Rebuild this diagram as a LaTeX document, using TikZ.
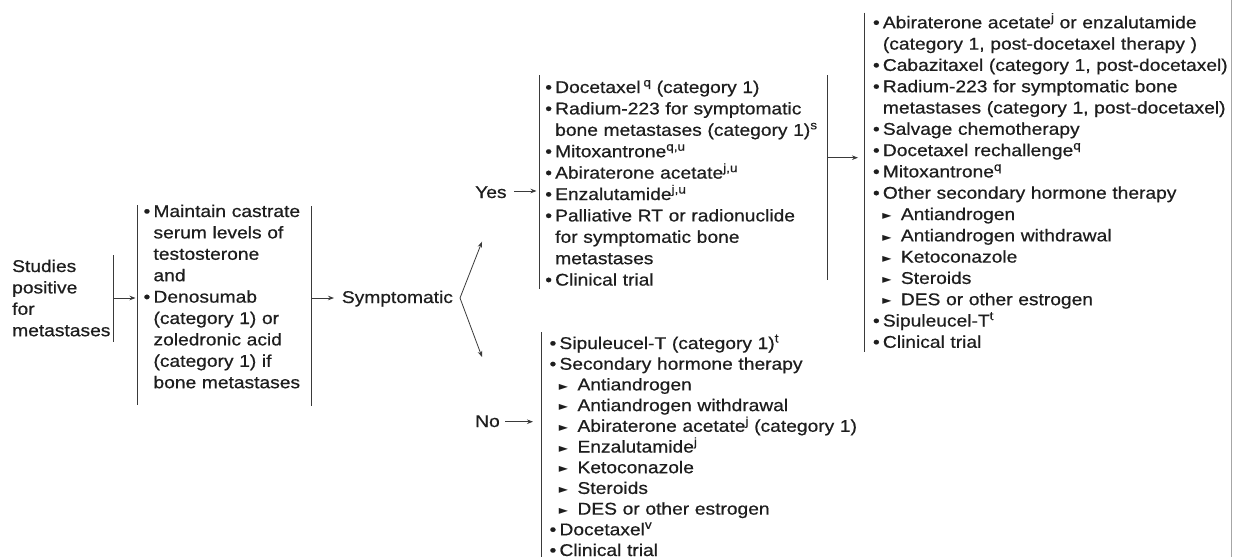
\documentclass[tikz,border=0pt]{standalone}
\usepackage{fontspec}
\setmainfont[FakeStretch=1.13,FakeBold=0.6]{Liberation Sans}
\newfontfamily\symfont{DejaVu Sans}
\usetikzlibrary{arrows.meta}
\definecolor{ink}{HTML}{1E1E1E}
\definecolor{rule}{HTML}{3A3A3A}
\newcommand\bul{\leavevmode\llap{\textbullet\hspace{3.2pt}}}
\newcommand\sub{\leavevmode\makebox[18pt][l]{\makebox[8pt][c]{\raisebox{0.3pt}{\symfont\fontsize{12}{12}\selectfont ►}}}}
\newcommand\sps[1]{\raisebox{6.5pt}{\fontsize{12}{12}\selectfont #1}}
\begin{document}
\begin{tikzpicture}[x=1pt,y=-1pt,
  txt/.style={inner sep=0pt, text width=400pt, align=left, text=ink, anchor=base west,
    font=\fontsize{17}{21.4}\selectfont},
  lbl/.style={inner sep=0pt, text=ink, anchor=base west, font=\fontsize{17}{21.4}\selectfont},
  bar/.style={draw=rule, line width=0.8pt},
  arr/.style={draw=rule, line width=0.8pt, -{Stealth[length=6pt,width=4.5pt]}}]
\useasboundingbox[fill=white] (0,0) rectangle (1233,557);

% texts
\node[txt] (studies) at (12,272) {Studies\\positive\\for\\metastases};
\node[txt] (maintain) at (153.3,217) {\bul Maintain castrate\\serum levels of\\testosterone\\and\\\bul Denosumab\\(category 1) or\\zoledronic acid\\(category 1) if\\bone metastases};
\node[lbl] (sympt) at (341.7,303) {Symptomatic};
\node[lbl] (yes) at (475,198) {Yes};
\node[lbl] (no) at (475,427) {No};
\node[txt] (yesbox) at (555,93) {\bul Docetaxel\,\sps{q} (category 1)\\
\bul Radium-223 for symptomatic\\
bone metastases (category 1)\sps{s}\\
\bul Mitoxantrone\sps{q,u}\\
\bul Abiraterone acetate\sps{j,u}\\
\bul Enzalutamide\sps{j,u}\\
\bul Palliative RT or radionuclide\\
for symptomatic bone\\
metastases\\
\bul Clinical trial};
\node[txt, font=\fontsize{17}{21.3}\selectfont] (postbox) at (882.7,28.3) {\bul Abiraterone acetate\sps{j} or enzalutamide\\
(category 1, post-docetaxel therapy )\\
\bul Cabazitaxel (category 1, post-docetaxel)\\
\bul Radium-223 for symptomatic bone\\
metastases (category 1, post-docetaxel)\\
\bul Salvage chemotherapy\\
\bul Docetaxel rechallenge\sps{q}\\
\bul Mitoxantrone\sps{q}\\
\bul Other secondary hormone therapy\\
\sub Antiandrogen\\
\sub Antiandrogen withdrawal\\
\sub Ketoconazole\\
\sub Steroids\\
\sub DES or other estrogen\\
\bul Sipuleucel-T\sps{t}\\
\bul Clinical trial};
\node[txt, font=\fontsize{17}{20.7}\selectfont] (nobox) at (559.3,349) {\bul Sipuleucel-T (category 1)\sps{t}\\
\bul Secondary hormone therapy\\
\sub Antiandrogen\\
\sub Antiandrogen withdrawal\\
\sub Abiraterone acetate\sps{j} (category 1)\\
\sub Enzalutamide\sps{j}\\
\sub Ketoconazole\\
\sub Steroids\\
\sub DES or other estrogen\\
\bul Docetaxel\sps{v}\\
\bul Clinical trial};

% bars
\coordinate (sbT) at (113.3,255); \coordinate (sbB) at (113.3,342);
\coordinate (mlT) at (137.7,205); \coordinate (mlB) at (137.7,405);
\coordinate (mrT) at (311,206); \coordinate (mrB) at (311,406);
\coordinate (ylT) at (539,75); \coordinate (ylB) at (539,289);
\coordinate (yrT) at (827.7,75); \coordinate (yrB) at (827.7,280);
\coordinate (plT) at (864.5,12.7); \coordinate (plB) at (864.5,352);
\coordinate (nlT) at (541.7,332); \coordinate (nlB) at (541.7,557);
\coordinate (edT) at (1231.5,0); \coordinate (edB) at (1231.5,557);
\draw[bar] (sbT) -- (sbB);
\draw[bar] (mlT) -- (mlB);
\draw[bar] (mrT) -- (mrB);
\draw[bar] (ylT) -- (ylB);
\draw[bar] (yrT) -- (yrB);
\draw[bar] (plT) -- (plB);
\draw[bar] (nlT) -- (nlB);
\draw[draw=gray!70, line width=1pt] (edT) -- (edB);

% arrows
\coordinate (a1s) at (113.3,298); \coordinate (a1e) at (135.5,298);
\coordinate (a2s) at (311,298); \coordinate (a2e) at (334,298);
\coordinate (vx) at (460,298);
\coordinate (upT) at (482,241.7); \coordinate (dnT) at (482,357);
\coordinate (ys) at (514,191); \coordinate (ye) at (536.5,191);
\coordinate (ps) at (828,157.7); \coordinate (pe) at (858,157.7);
\coordinate (ns) at (505,421.7); \coordinate (ne) at (533,421.7);
\draw[arr] (a1s) -- (a1e);
\draw[arr] (a2s) -- (a2e);
\draw[arr] (vx) -- (upT);
\draw[arr] (vx) -- (dnT);
\draw[arr] (ys) -- (ye);
\draw[arr] (ps) -- (pe);
\draw[arr] (ns) -- (ne);
\end{tikzpicture}
\end{document}
